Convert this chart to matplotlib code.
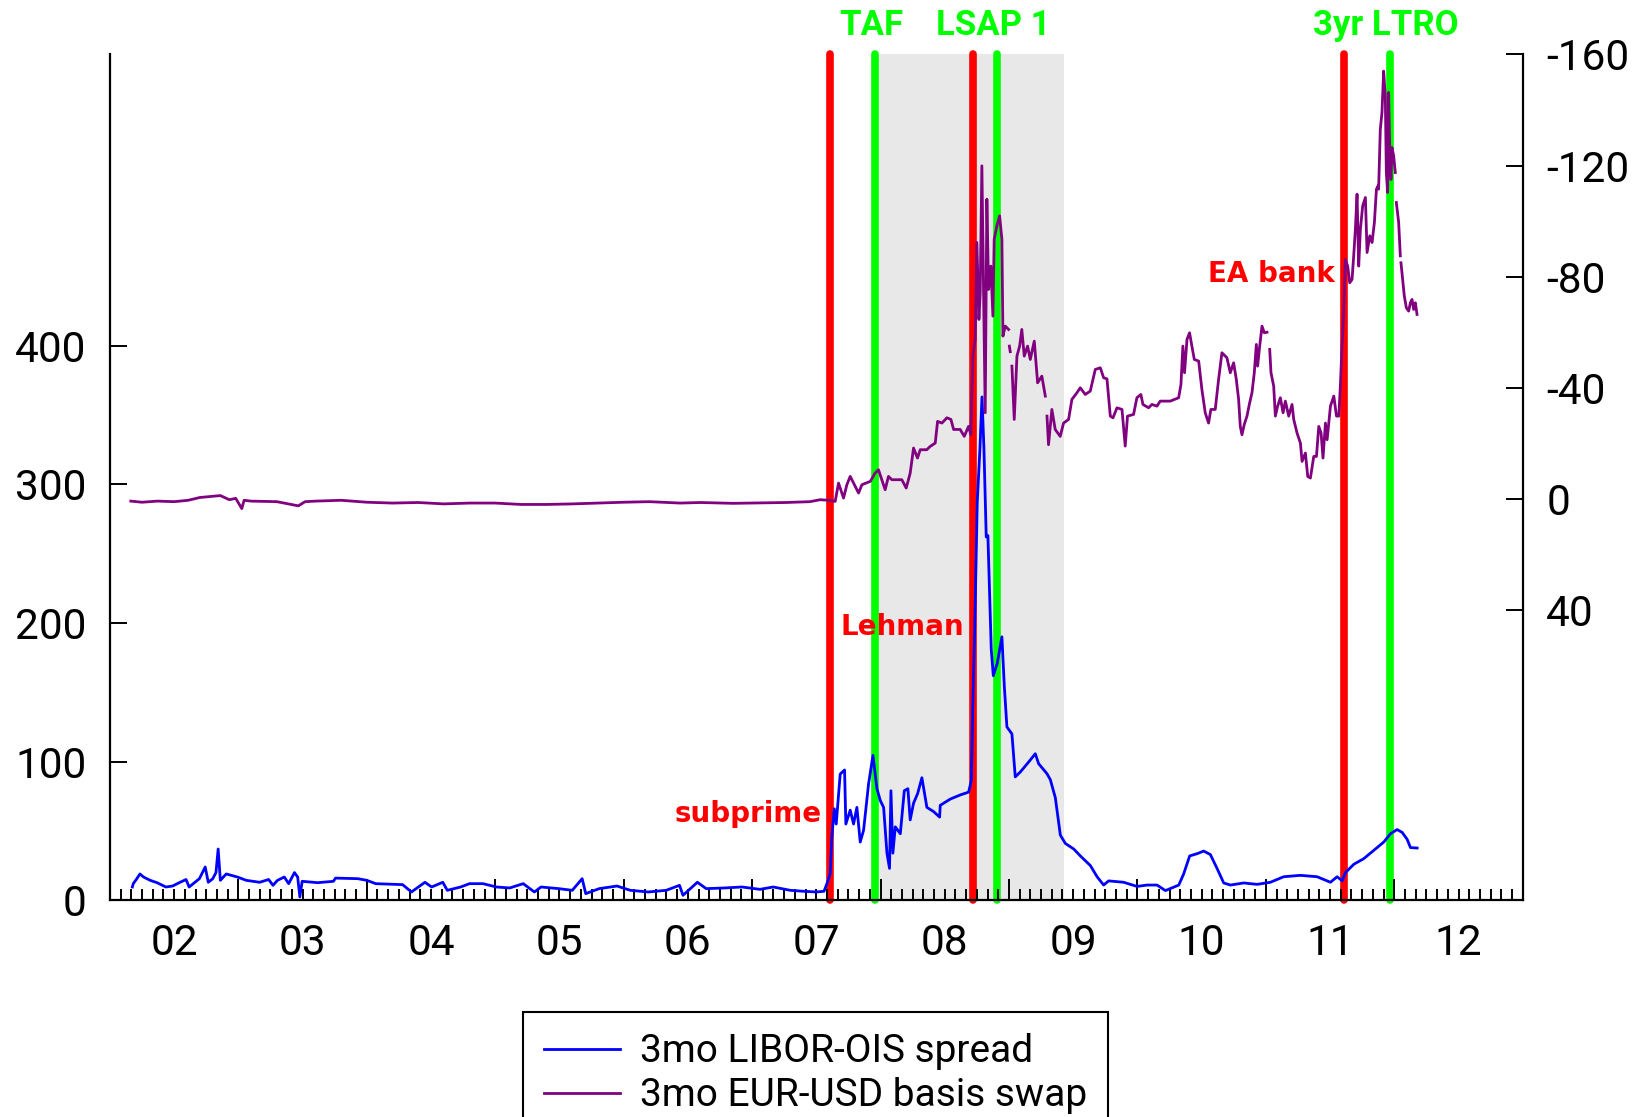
import numpy as np
import matplotlib
matplotlib.use("Agg")
import matplotlib.pyplot as plt
import matplotlib.transforms as mtransforms
from matplotlib.lines import Line2D

# ---------------- data ----------------
libor_ois_years = [
    2002.175, 2002.182, 2002.21, 2002.234, 2002.262, 2002.314, 2002.367, 2002.436, 2002.488, 2002.54,
    2002.593, 2002.617, 2002.662, 2002.697, 2002.742, 2002.766, 2002.801, 2002.826, 2002.843, 2002.86,
    2002.906, 2002.992, 2003.062, 2003.166, 2003.236, 2003.27, 2003.305, 2003.358, 2003.392, 2003.437,
    2003.462, 2003.479, 2003.497, 2003.618, 2003.74, 2003.757, 2003.93, 2004.0, 2004.07, 2004.279,
    2004.348, 2004.453, 2004.505, 2004.592, 2004.627, 2004.731, 2004.8, 2004.905, 2005.009, 2005.113,
    2005.218, 2005.305, 2005.357, 2005.496, 2005.6, 2005.677, 2005.705, 2005.809, 2005.948, 2006.052,
    2006.191, 2006.331, 2006.435, 2006.462, 2006.574, 2006.643, 2006.783, 2006.922, 2007.061, 2007.165,
    2007.297, 2007.40, 2007.50, 2007.56, 2007.583, 2007.608, 2007.621, 2007.64, 2007.655, 2007.686,
    2007.72, 2007.73, 2007.764, 2007.79, 2007.816, 2007.842, 2007.868, 2007.907, 2007.941, 2007.972,
    2007.998, 2008.024, 2008.05, 2008.07, 2008.081, 2008.096, 2008.115, 2008.154, 2008.185, 2008.213,
    2008.231, 2008.257, 2008.289, 2008.322, 2008.361, 2008.413, 2008.46, 2008.465, 2008.543, 2008.621,
    2008.686, 2008.707, 2008.718, 2008.732, 2008.753, 2008.774, 2008.79, 2008.805, 2008.823, 2008.836,
    2008.849, 2008.862, 2008.878, 2008.909, 2008.945, 2008.964, 2008.984, 2009.023, 2009.049, 2009.088,
    2009.153, 2009.205, 2009.231, 2009.296, 2009.322, 2009.361, 2009.40, 2009.439, 2009.504, 2009.556,
    2009.634, 2009.686, 2009.737, 2009.776, 2009.893, 2009.997, 2010.075, 2010.153, 2010.218, 2010.322,
    2010.36, 2010.407, 2010.464, 2010.516, 2010.568, 2010.62, 2010.672, 2010.724, 2010.828, 2010.932,
    2011.035, 2011.139, 2011.269, 2011.399, 2011.503, 2011.555, 2011.594, 2011.62, 2011.685, 2011.762,
    2011.84, 2011.918, 2011.97, 2012.022, 2012.061, 2012.1, 2012.126, 2012.178,
]
libor_ois_bp = [
    9.6, 12, 15.6, 19, 16.8, 14.4, 12.7, 9.6, 10.3, 12.7,
    15, 9.6, 13, 15.6, 24, 13, 15.6, 20, 37, 14.4,
    19, 16.8, 14.4, 13, 15, 10.8, 14.4, 16.8, 12, 20,
    16.8, 2.4, 13.7, 12.7, 13.7, 16, 15.6, 14.4, 12, 11.3,
    6, 13, 9.6, 13, 7.2, 9.6, 12, 12, 9.6, 8.9,
    12, 6, 9.6, 8.4, 7.2, 15.6, 4.8, 8.4, 10.3, 7.2,
    6, 7.2, 10.8, 3.6, 13, 8.4, 8.9, 9.6, 7.9, 9.6,
    7.2, 6.5, 6, 6.5, 12.1, 19.3, 45.7, 66, 55, 91,
    94, 55, 65, 55, 67, 42, 50.5, 84, 104.5, 80.5,
    72, 67, 34, 23, 79, 34, 53, 48, 79, 80.5,
    58, 70, 77, 88.4, 67, 64, 60, 68.5, 73, 76,
    78, 86.5, 140, 191, 287, 326, 363, 326, 262, 263,
    223, 181, 162, 171, 190, 154, 125, 120, 89, 92.5,
    99.7, 105.7, 98.5, 91.3, 87, 74, 47, 41, 37, 32,
    25, 17, 11, 14, 13, 10, 11, 11, 7, 11,
    19, 32, 33.6, 35.5, 33, 23, 12.5, 11, 12.5, 11.5,
    13, 17, 18, 17, 13, 17, 14, 20, 26, 30,
    36, 42, 48, 51, 49, 44, 38, 37.7,
]

nan = np.nan
basis_years = [
    2002.163, 2002.25, 2002.37, 2002.5, 2002.61, 2002.70, 2002.77, 2002.86, 2002.93, 2002.98,
    2003.027, 2003.045, 2003.10, 2003.30, 2003.467, 2003.52, 2003.60, 2003.80, 2004.00, 2004.20,
    2004.40, 2004.60, 2004.80, 2005.00, 2005.20, 2005.40, 2005.60, 2005.80, 2006.00, 2006.20,
    2006.44, 2006.60, 2006.85, 2007.00, 2007.26, 2007.45, 2007.53, 2007.60, 2007.647, 2007.673,
    2007.712, 2007.738, 2007.764, 2007.79, 2007.829, 2007.855, 2007.92, 2007.958, 2007.984, 2008.036,
    2008.062, 2008.088, 2008.127, 2008.166, 2008.20, 2008.231, 2008.257, 2008.288, 2008.309, 2008.36,
    2008.387, 2008.426, 2008.444, 2008.478, 2008.517, 2008.548, 2008.569, 2008.62, 2008.652, 2008.685,
    2008.703, 2008.719, 2008.737, 2008.75, 2008.766, 2008.776, 2008.789, 2008.802, 2008.815, 2008.828,
    2008.841, 2008.859, 2008.875, 2008.885, 2008.906, 2008.927, 2008.945, 2008.953, 2008.971, 2008.997,
    2009.000, 2009.003, 2009.010, 2009.014, 2009.023, 2009.041, 2009.062, 2009.083, 2009.10, 2009.119,
    2009.145, 2009.166, 2009.197, 2009.223, 2009.256, 2009.283, 2009.289, 2009.296, 2009.308, 2009.334,
    2009.36, 2009.399, 2009.425, 2009.464, 2009.49, 2009.529, 2009.555, 2009.594, 2009.633, 2009.672,
    2009.711, 2009.737, 2009.763, 2009.789, 2009.81, 2009.841, 2009.88, 2009.905, 2009.923, 2009.97,
    2009.996, 2010.027, 2010.043, 2010.087, 2010.113, 2010.152, 2010.178, 2010.256, 2010.321, 2010.339,
    2010.354, 2010.367, 2010.386, 2010.406, 2010.424, 2010.443, 2010.477, 2010.502, 2010.528, 2010.554,
    2010.572, 2010.606, 2010.632, 2010.658, 2010.697, 2010.723, 2010.749, 2010.77, 2010.788, 2010.801,
    2010.814, 2010.832, 2010.853, 2010.874, 2010.892, 2010.91, 2010.926, 2010.936, 2010.952, 2010.97,
    2010.988, 2011.009, 2011.02, 2011.03, 2011.04, 2011.061, 2011.074, 2011.092, 2011.113, 2011.134,
    2011.152, 2011.178, 2011.204, 2011.217, 2011.243, 2011.269, 2011.282, 2011.308, 2011.326, 2011.347,
    2011.373, 2011.394, 2011.412, 2011.43, 2011.445, 2011.464, 2011.477, 2011.503, 2011.529, 2011.55,
    2011.568, 2011.58, 2011.593, 2011.606, 2011.619, 2011.637, 2011.653, 2011.671, 2011.684, 2011.697,
    2011.71, 2011.723, 2011.736, 2011.754, 2011.775, 2011.788, 2011.809, 2011.827, 2011.845, 2011.861,
    2011.874, 2011.878, 2011.891, 2011.904, 2011.917, 2011.93, 2011.938, 2011.948, 2011.956, 2011.964,
    2011.974, 2011.982, 2011.995, 2012.008, 2012.012, 2012.016, 2012.034, 2012.047, 2012.050, 2012.052,
    2012.068, 2012.078, 2012.094, 2012.112, 2012.125, 2012.138, 2012.151, 2012.164, 2012.177,
]
basis_bp = [
    0.8, 1.2, 0.8, 1.0, 0.5, -0.5, -0.8, -1.2, 0.3, -0.2,
    3.5, 0.5, 0.8, 1.0, 2.5, 1.0, 0.8, 0.5, 1.2, 1.5,
    1.3, 1.8, 1.5, 1.5, 2.0, 2.0, 1.8, 1.5, 1.2, 1.0,
    1.5, 1.3, 1.6, 1.5, 1.3, 1.0, 0.3, 0.5, 0.9, -5.7,
    -0.3, -5.1, -8.1, -5.7, -2.1, -5.1, -6.3, -9.3, -10.5, -3.3,
    -8.1, -6.9, -6.9, -6.9, -3.9, -9.3, -18.3, -14.7, -17.7, -17.7,
    -18.9, -20.1, -27.9, -27.3, -29.2, -28.6, -25, -25, -22.5, -26.1,
    -23.1, -51.4, -57.4, -92.3, -64.6, -74.2, -119.9, -75.4, -31, -107.9,
    -75.4, -83.8, -65.8, -93.5, -98.3, -101.9, -93.5, -58.6, -62.2, -61,
    nan, -55, -53, nan, -47.8, -28.6, -51.4, -55, -61, -51.4,
    -55, -50.2, -56.8, -41.8, -44.2, -37, nan, -29.8, -19.5, -32.2,
    -25, -22.5, -27.3, -28.6, -35.8, -38.2, -40, -37.6, -38.8, -46.6,
    -47.2, -43.6, -43.2, -29.8, -29.2, -32.8, -32.2, -19, -29.8, -30.4,
    -36.4, -37.6, -34, -32.8, -34, -33.4, -35.2, -35.2, -36.4, -41.2,
    -55, -45.4, -57.4, -59.8, -55, -50.2, -49.6, -39.4, -31, -27.3,
    -32.2, -32.2, -43, -52.6, -50.8, -45.4, -49, -43, -35.8, -26.1,
    -23.1, -26.8, -29.8, -34.6, -38.2, -45.4, -55.6, -47.8, -55, -62.2,
    -59.8, -60, nan, -53.8, -45.4, -40.6, -29.8, -33.4, -36.4, -31,
    -35.2, -29.8, -34, -28.6, -23.7, -20.1, -13.5, -16.5, -8.1, -7.5,
    -15.3, -15.3, -26.1, -23.7, -14.7, -27.3, -21.3, -33.4, -37, -29.8,
    -29.8, -40.6, -55, -67, -86.2, -83.8, -77.8, -79, -87.5, -97.1,
    -109.7, -83.8, -97.1, -105.5, -108.5, -88.7, -94.7, -92.3, -99.5, -111.5,
    -112.7, -111.5, -133, -139, -154, -145, -117.5, -110.3, -146.3, -127,
    -115, -126.5, -123.5, -117.5, nan, -106.7, -99.5, -87.5, nan, -85,
    -77.8, -73, -68.8, -67.6, -70.6, -71.8, -68.2, -70.6, -66.4,
]

event_red = [2007.61, 2008.72, 2011.61]          # subprime, Lehman, EA bank
event_green = [2007.955, 2008.91, 2011.965]      # TAF, LSAP 1, 3yr LTRO
green_labels = ["TAF", "LSAP 1", "3yr LTRO"]
recession = (2007.97, 2009.43)
year_labels = ["02", "03", "04", "05", "06", "07", "08", "09", "10", "11", "12"]
left_ticks = [0, 100, 200, 300, 400]
right_ticks = [-160, -120, -80, -40, 0, 40]

# ---------------- figure ----------------
plt.rcParams["font.family"] = ["Roboto", "DejaVu Sans"]
plt.rcParams["axes.unicode_minus"] = False

W, H = 1641, 1117
fig = plt.figure(figsize=(W / 100, H / 100), dpi=100)
ax = fig.add_axes([0.06696, 0.1940, 0.86097, 0.75727])
ax.set_xlim(2002, 2013)
ax.set_ylim(0, 610)

ax.axvspan(recession[0], recession[1], color="#e8e8e8", lw=0, zorder=0)
for x in event_red:
    ax.axvline(x, color="#ff0000", lw=5.5, solid_capstyle="round", clip_on=False, zorder=1)
for x in event_green:
    ax.axvline(x, color="#00ff00", lw=5.5, solid_capstyle="round", clip_on=False, zorder=1)

ax.plot(libor_ois_years, libor_ois_bp, color="#0000ff", lw=2.0, zorder=3)

ax2 = ax.twinx()
ax2.set_ylim(144.5, -160)
ax2.plot(basis_years, basis_bp, color="#800080", lw=2.0, zorder=3)

# spines
for s in ["top", "right"]:
    ax.spines[s].set_visible(False)
for s in ["top", "left", "bottom"]:
    ax2.spines[s].set_visible(False)
for s in ["left", "bottom"]:
    ax.spines[s].set_linewidth(1.6)
ax2.spines["right"].set_linewidth(1.6)

# x ticks: years major (unlabelled), months minor (labels mid-year)
years = list(range(2002, 2014))
ax.set_xticks(years)
ax.set_xticklabels([""] * len(years))
minor_pos, minor_lab = [], []
for i, y in enumerate(range(2002, 2013)):
    for m in range(1, 12):
        minor_pos.append(y + m / 12)
        minor_lab.append(year_labels[i] if m == 6 else "")
ax.set_xticks(minor_pos, minor=True)
ax.set_xticklabels(minor_lab, minor=True)
ax.tick_params(axis="x", which="major", direction="in", length=15, width=1.4)
ax.tick_params(axis="x", which="minor", direction="in", length=8, width=1.4,
               labelsize=30.5, pad=16)

ax.set_yticks(left_ticks)
ax.set_yticklabels([str(v) for v in left_ticks])
ax.tick_params(axis="y", direction="in", length=12, width=1.4, labelsize=30.5, pad=17)
ax2.set_yticks(right_ticks)
ax2.set_yticklabels([str(v) for v in right_ticks])
ax2.tick_params(axis="y", direction="in", length=12, width=1.4, labelsize=30.5, pad=17)

# annotations
trans = mtransforms.blended_transform_factory(ax.transData, ax.transAxes)
for x, lab in zip(event_green, green_labels):
    ax.text(x - 0.03, 1.034, lab, transform=trans, ha="center", va="center",
            color="#00ff00", fontsize=25, fontweight="bold", clip_on=False)

red_kw = dict(color="#ff0000", fontsize=20, fontweight="bold", family=["DejaVu Sans"],
              va="center", zorder=4)
ax.text(2007.54, 62, "subprime", ha="right", **red_kw)
ax.text(2007.69, 197, "Lehman", ha="left", **red_kw)
ax.text(2011.535, 452, "EA bank", ha="right", **red_kw)

handles = [Line2D([], [], color="#0000ff", lw=2.0), Line2D([], [], color="#800080", lw=2.0)]
leg = fig.legend(handles, ["3mo LIBOR-OIS spread", "3mo EUR-USD basis swap"],
                 loc="upper left", bbox_to_anchor=(523 / W, 1 - 1012 / H),
                 fontsize=28, frameon=True, fancybox=False, framealpha=1,
                 edgecolor="black", handlelength=1.95, handletextpad=0.5,
                 borderpad=0.55, labelspacing=0.18, borderaxespad=0)
leg.get_frame().set_linewidth(1.5)

fig.savefig("out.png", dpi=100)
